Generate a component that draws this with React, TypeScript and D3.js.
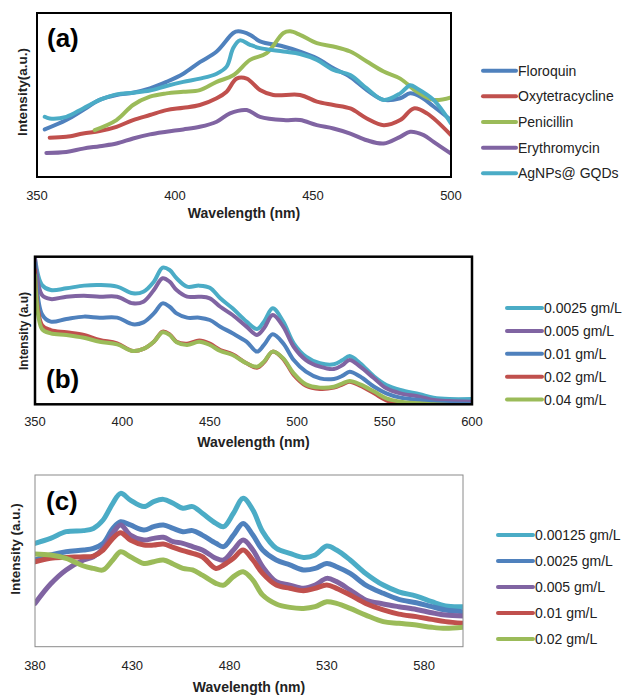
import React from 'react';
import * as d3 from 'd3';

// panel (a): antibiotics, [wavelength nm, intensity a.u.]
const floroquin = [[352.8,29],[360.6,34.7],[366.7,40.8],[372.7,47],[378.8,50],[384.8,51.4],[390.9,54],[396.9,58],[403,63],[409,70],[415.1,76.5],[421.1,87.8],[422.9,88.8],[427.2,86.7],[430.8,82.7],[439.3,79.6],[445.3,76.5],[451.4,72.4],[457.4,66.3],[463.5,61],[469.5,53],[475.6,47],[481.6,48],[485.2,51],[488.9,49],[493.7,43],[500,34.7]];
const oxytetracycline = [[354.6,24],[360.6,24.5],[366.7,26.5],[372.7,28],[378.8,30.6],[384.8,34.7],[390.9,37.8],[396.9,40.8],[403,42.2],[409,43.9],[415.1,48],[418.7,52],[422.3,60],[426,60],[430.8,53],[435.6,50],[445.3,50],[451.4,46],[457.4,43.9],[463.5,41.8],[469.5,35.7],[475.6,31.6],[481.6,34.7],[486.5,41.8],[491.3,38.8],[500,25.5]];
const penicillin = [[370.9,28.6],[378.8,34.7],[384.8,43.9],[390.9,49],[396.9,51],[403,52],[409,53],[415.1,58],[421.1,62],[427.2,71.4],[433.2,75.5],[439.3,87.8],[441.7,88.8],[445.3,86.7],[451.4,81.6],[457.4,79.6],[463.5,76.5],[469.5,70.4],[475.6,64.3],[481.6,60],[487.7,52],[493.7,47],[500,48.6]];
const erythromycin = [[353.4,14.7],[360.6,15.3],[366.7,17.3],[372.7,18.8],[378.8,20.4],[384.8,23.5],[390.9,26],[396.9,27.6],[403,29],[409,30.6],[415.1,33.7],[419.9,38.8],[426,40.8],[430.8,36.7],[439.3,34.7],[445.3,34.7],[451.4,31.6],[457.4,29.6],[463.5,26.5],[469.5,22.4],[475.6,20.4],[481.6,24.5],[485.2,27.6],[490.1,25.5],[493.7,21.4],[500,14.3]];
const agGqd = [[352.8,36.7],[354.6,35.7],[360.6,36.7],[366.7,41.8],[372.7,47],[378.8,50.4],[384.8,51.4],[390.9,52.7],[396.9,55.5],[403,58],[409,60],[415.1,63],[418.7,67.3],[421.1,78.6],[423.5,83.3],[427.2,80.6],[430.8,78.6],[439.3,76.5],[445.3,75],[451.4,71.4],[457.4,65.3],[463.5,62.2],[469.5,54],[475.6,47],[481.6,51],[485.2,56],[487.7,54],[493.7,47],[500,32.7]];

// panel (b): concentrations
const wlB = [350,354,359,368,378,387,397,406,412,418,423,427,431,437,444,450,456,463,471,477,481,486,492,498,505,513,521,526,530,536,544,551,559,570,578,587,600];
const b0025 = [98.9,80.8,77.4,78.6,80.4,80.8,79.7,75.2,76.3,83.1,92.6,91,85.4,79.7,80.4,79,71.8,65,56,51,56,65,56,41.3,32.3,27.8,27.1,30,32.7,27.8,18.8,13.1,9.7,6.8,4.5,3.6,3.6];
const b005 = [98.9,74,71.3,72.9,73.6,72.9,72.9,68.4,69.5,77.4,85.4,83.1,77.4,72.9,72.9,71.8,66.1,60.5,52.6,47,51.5,60.5,52.6,39,30,25.5,23.9,26.6,30,25.5,17.6,10.8,7.4,5.2,2.9,2.2,1.8];
const b01 = [95.5,61,56,57.8,59.4,58.7,58.7,54.2,55.5,61.6,68.4,66.1,61.6,58.7,58.7,57.1,52.6,48.1,42.4,35.7,40.2,47.4,41.3,30,22.1,17.6,17.2,19.4,22.1,18.8,11.9,7.4,4.5,2.9,1.3,0.7,0.2];
const b02 = [91,53.7,50.3,48.8,47,43.6,41.3,36.1,37.5,42.4,49.2,47.4,42.4,41.1,43.3,41.1,36.8,33.9,27.8,24.8,28.4,35.7,30.7,19.9,12.6,10.4,11.3,13.5,15.3,12.6,7.4,2.7,0,-2,-3,-3,-3];
const b04 = [87.6,51,48.1,47,45.1,42.4,40.6,36.1,37.5,42.4,48.8,47,42,40.2,42.4,40.2,36.1,33.4,27.8,25.5,28.9,35.7,31.1,21,13.5,11.3,11.9,14.2,15.8,13.5,8.6,4,1.8,0.7,0,-0.5,-1];

// panel (c)
const wlC = [380,388,396,405,410,415,420,424,429,436,441,446,451,456,461,466,473,477,482,487,492,497,504,511,518,524,530,535,542,550,559,567,576,584,591,600];
const c00125 = [60.2,63.1,67,67.6,68.9,73.8,83.5,89.3,85.4,81.6,84.5,85.8,83.5,80.6,81.6,77.7,71.8,69.9,77.7,86.4,79.6,67,57.3,54.4,52,53.4,58.6,56.3,50.5,42.7,35.9,32,29.5,26.2,23.7,23.3];
const c0025 = [50.5,53.4,55.3,56.3,57.3,60.2,68.9,72.8,70.9,68,69.9,70.9,68.9,67,67.6,65,60.2,58.3,65,71.8,65,56.3,50.5,47.6,44.7,45.6,48.5,46.6,42.7,35.9,31.1,27.6,25.6,23.3,21.4,20.4];
const c005 = [25.2,36.5,44.7,50.5,52.4,57.3,66,70.9,65,62.1,63.1,63.7,61.2,60.2,58.3,56.3,51.5,50.5,56.3,62.1,56.3,46.6,37.9,35.9,34,35.9,39.8,37.9,33,27.2,24.9,23.3,21.7,19.8,18.4,17.9];
const c01 = [49.5,51.5,52,52.4,52.8,56.3,63.1,66.4,62.1,59.2,59.2,59.8,57.9,55.9,54.4,52.4,45.6,47.6,51.5,56.3,50.5,42.7,35.9,34,32.6,34,35.9,34,30.1,25.2,21.4,19,17.5,15.9,14.6,13.6];
const c02 = [54,53.4,51.5,47,45.6,44.7,50.5,55.3,52.4,48.5,49.5,50.5,48.2,45.6,44.7,41.7,36.9,35.9,40.8,43.7,38.8,30.1,24.9,22.9,22.3,23.3,26.2,25.2,22.3,18.4,14.6,13.6,12.6,11.3,10.7,11.3];

const BLUE = '#4F81BD', RED = '#C0504D', GREEN = '#9BBB59', PURPLE = '#8064A2', AQUA = '#4BACC6';
const FONT = '"Liberation Sans", Arial, sans-serif';

const zip = (xs: number[], ys: number[]) => xs.map((x, i) => [x, ys[i]]);

const panels = [
  {
    id: 'a', tag: '(a)', yTitle: 'Intensity(a.u.)', yTitleSize: 13.5,
    x0: 37, x1: 451, y0: 13, y1: 177, dom: [350, 500], ticks: [350, 400, 450, 500],
    frame: '#000', frameW: 2, lineW: 4,
    tickY: 199.5, titleY: 218, yTitleX: 22, yTitleY: 92, tagX: 47, tagY: 47,
    legX: 483, legY: 70.7, legStep: 25.65, legLen: 33,
    series: [
      { name: 'Floroquin', color: BLUE, pts: floroquin },
      { name: 'Oxytetracycline', color: RED, pts: oxytetracycline },
      { name: 'Penicillin', color: GREEN, pts: penicillin },
      { name: 'Erythromycin', color: PURPLE, pts: erythromycin },
      { name: 'AgNPs@ GQDs', color: AQUA, pts: agGqd },
    ],
  },
  {
    id: 'b', tag: '(b)', yTitle: 'Intensity (a.u)', yTitleSize: 12,
    x0: 35, x1: 472, y0: 256.7, y1: 404.3, dom: [350, 600], ticks: [350, 400, 450, 500, 550, 600],
    frame: '#000', frameW: 2.5, lineW: 4,
    tickY: 426, titleY: 446.5, yTitleX: 24, yTitleY: 331, tagX: 46, tagY: 388,
    legX: 507, legY: 308, legStep: 22.9, legLen: 35,
    series: [
      { name: '0.0025 gm/L', color: AQUA, pts: zip(wlB, b0025) },
      { name: '0.005 gm/L', color: PURPLE, pts: zip(wlB, b005) },
      { name: '0.01 gm/L', color: BLUE, pts: zip(wlB, b01) },
      { name: '0.02 gm/L', color: RED, pts: zip(wlB, b02) },
      { name: '0.04 gm/L', color: GREEN, pts: zip(wlB, b04) },
    ],
  },
  {
    id: 'c', tag: '(c)', yTitle: 'Intensity (a.u.)', yTitleSize: 13.5,
    x0: 35, x1: 463, y0: 475, y1: 646.7, dom: [380, 600], ticks: [380, 430, 480, 530, 580],
    frame: '#8a8a8a', frameW: 1, lineW: 5,
    tickY: 669.5, titleY: 691.5, yTitleX: 15, yTitleY: 549, tagX: 46, tagY: 510,
    legX: 498, legY: 535, legStep: 26, legLen: 35,
    series: [
      { name: '0.00125 gm/L', color: AQUA, pts: zip(wlC, c00125) },
      { name: '0.0025 gm/L', color: BLUE, pts: zip(wlC, c0025) },
      { name: '0.005 gm/L', color: PURPLE, pts: zip(wlC, c005) },
      { name: '0.01 gm/L', color: RED, pts: zip(wlC, c01) },
      { name: '0.02 gm/L', color: GREEN, pts: zip(wlC, c02) },
    ],
  },
];

function Panel({ p }: { p: any }) {
  const x = d3.scaleLinear().domain(p.dom).range([p.x0, p.x1]);
  const y = d3.scaleLinear().domain([0, 100]).range([p.y1, p.y0]);
  const line = d3.line<number[]>()
    .x(d => x(d[0]))
    .y(d => y(d[1]))
    .curve(d3.curveCatmullRom.alpha(0.5));
  const clipId = 'clip-' + p.id;

  return (
    <g>
      <defs>
        <clipPath id={clipId}>
          <rect x={p.x0} y={p.y0} width={p.x1 - p.x0} height={p.y1 - p.y0} />
        </clipPath>
      </defs>
      <g clipPath={`url(#${clipId})`}>
        {p.series.map((s: any) => (
          <path key={s.name} d={line(s.pts) || ''} fill="none"
            stroke={s.color} strokeWidth={p.lineW}
            strokeLinejoin="round" strokeLinecap="round" />
        ))}
      </g>
      <rect x={p.x0} y={p.y0} width={p.x1 - p.x0} height={p.y1 - p.y0}
        fill="none" stroke={p.frame} strokeWidth={p.frameW} />
      {p.ticks.map((t: number) => (
        <text key={t} x={x(t)} y={p.tickY} textAnchor="middle" fontSize={13} fill="#222">{t}</text>
      ))}
      <text x={(p.x0 + p.x1) / 2} y={p.titleY} textAnchor="middle" fontSize={14} fontWeight="bold" fill="#222">
        Wavelength (nm)
      </text>
      <text transform={`translate(${p.yTitleX},${p.yTitleY}) rotate(-90)`} textAnchor="middle"
        dy="0.35em" fontSize={p.yTitleSize} fontWeight="bold" fill="#222">
        {p.yTitle}
      </text>
      <text x={p.tagX} y={p.tagY} fontSize={26} fontWeight="bold" fill="#000">{p.tag}</text>
      {p.series.map((s: any, i: number) => {
        const ly = p.legY + i * p.legStep;
        return (
          <g key={s.name}>
            <line x1={p.legX} x2={p.legX + p.legLen} y1={ly} y2={ly}
              stroke={s.color} strokeWidth={4} strokeLinecap="round" />
            <text x={p.legX + p.legLen + 2} y={ly} dy="0.35em" fontSize={14} fill="#222">{s.name}</text>
          </g>
        );
      })}
    </g>
  );
}

export default function App() {
  return (
    <svg width={625} height={695} style={{ position: 'absolute', left: 0, top: 0, background: '#fff' }}
      fontFamily={FONT}>
      <rect width={625} height={695} fill="#fff" />
      {panels.map(p => <Panel key={p.id} p={p} />)}
    </svg>
  );
}
